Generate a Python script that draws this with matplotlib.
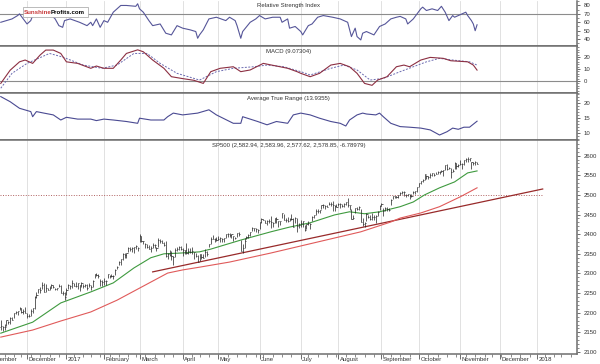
import numpy as np
import pandas as pd
import matplotlib
matplotlib.use('Agg')
import matplotlib.pyplot as plt
from matplotlib.ticker import MultipleLocator, FixedLocator, NullLocator
from matplotlib.transforms import blended_transform_factory, offset_copy
from matplotlib.patches import Rectangle

plt.rcParams['font.family'] = ['Liberation Sans', 'DejaVu Sans']
plt.rcParams['font.size'] = 4.3

# ---------------- data ----------------
nyse_holidays = ['2016-11-24', '2016-12-26', '2017-01-02', '2017-01-16', '2017-02-20',
                 '2017-04-14', '2017-05-29', '2017-07-04', '2017-09-04', '2017-11-23',
                 '2017-12-25', '2018-01-01', '2018-01-15']
first_bar_date = '2016-11-09'

# daily S&P 500 bars, 2016-11-09 .. 2017-11-14
closes = [
    # Nov 2016
    2163.26, 2167.48, 2164.45, 2164.20, 2180.39, 2176.94, 2187.12, 2181.90, 2198.18, 2202.94,
    2204.72, 2213.35, 2201.72, 2204.66, 2198.81,
    # Dec
    2191.08, 2191.95, 2204.71, 2212.23, 2241.35, 2246.19, 2259.53, 2256.96, 2271.72, 2253.28,
    2262.03, 2258.07, 2262.53, 2270.76, 2265.18, 2260.96, 2263.79, 2268.88, 2249.92, 2249.26, 2238.83,
    # Jan 2017
    2257.83, 2270.75, 2269.00, 2276.98, 2268.90, 2268.90, 2275.32, 2270.44, 2274.64, 2267.89,
    2271.89, 2263.69, 2271.31, 2265.20, 2280.07, 2298.37, 2296.68, 2294.69, 2280.90, 2278.87,
    # Feb
    2279.55, 2280.85, 2297.42, 2292.56, 2293.08, 2294.67, 2307.87, 2316.10, 2328.25, 2337.58,
    2349.25, 2347.22, 2351.16, 2365.38, 2362.82, 2363.81, 2367.34, 2369.75, 2363.64,
    # Mar
    2395.96, 2381.92, 2383.12, 2375.31, 2368.39, 2362.98, 2364.87, 2372.60, 2373.47, 2365.45,
    2385.26, 2381.38, 2378.25, 2373.47, 2344.02, 2348.45, 2345.96, 2343.98, 2341.59, 2358.57,
    2361.13, 2368.06, 2362.72,
    # Apr
    2358.84, 2360.16, 2352.95, 2357.49, 2355.54, 2357.16, 2353.78, 2344.93, 2328.95, 2349.01,
    2342.19, 2338.17, 2355.84, 2348.69, 2374.15, 2388.61, 2387.45, 2388.77, 2384.20,
    # May
    2388.33, 2391.17, 2388.13, 2389.52, 2399.29, 2399.38, 2396.92, 2399.63, 2394.44, 2390.90,
    2402.32, 2400.67, 2357.03, 2365.72, 2381.73, 2394.02, 2398.42, 2404.39, 2415.07, 2415.82,
    2412.91, 2411.80,
    # Jun
    2430.06, 2439.07, 2436.10, 2429.33, 2433.14, 2433.79, 2431.77, 2429.39, 2440.35, 2437.92,
    2432.46, 2433.15, 2453.46, 2437.03, 2435.61, 2434.50, 2438.30, 2439.07, 2419.38, 2440.69,
    2419.70, 2423.41,
    # Jul
    2429.01, 2432.54, 2409.75, 2425.18, 2427.43, 2425.53, 2443.25, 2447.83, 2459.27, 2459.14,
    2460.61, 2473.83, 2473.45, 2472.54, 2469.91, 2477.13, 2477.83, 2475.42, 2472.10, 2470.30,
    # Aug
    2476.35, 2477.57, 2472.16, 2476.83, 2480.91, 2474.92, 2474.02, 2438.21, 2441.32, 2465.84,
    2464.61, 2468.11, 2430.01, 2425.55, 2428.37, 2452.51, 2444.04, 2438.97, 2443.05, 2444.24,
    2446.30, 2457.59, 2471.65,
    # Sep
    2476.55, 2457.85, 2465.54, 2465.10, 2461.43, 2488.11, 2496.48, 2498.37, 2495.62, 2500.23,
    2503.87, 2506.65, 2508.24, 2500.60, 2502.22, 2496.66, 2496.84, 2507.04, 2510.06, 2519.36,
    # Oct
    2529.12, 2534.58, 2537.74, 2552.07, 2549.33, 2544.73, 2550.64, 2555.24, 2550.93, 2553.17,
    2557.64, 2559.36, 2561.26, 2562.10, 2575.21, 2564.98, 2569.13, 2557.15, 2560.40, 2581.07,
    2572.83, 2575.26,
    # Nov
    2579.36, 2579.85, 2587.84, 2591.13, 2590.64, 2594.38, 2584.62, 2582.30, 2584.84, 2578.85,
]
highs = [
    2170.1, 2182.3, 2165.9, 2171.4, 2180.8, 2179.2, 2188.1, 2189.9, 2198.7, 2204.8,
    2204.7, 2213.4, 2211.1, 2210.5, 2214.1,
    2198.8, 2197.9, 2209.4, 2212.5, 2241.6, 2251.7, 2259.8, 2265.3, 2277.5, 2276.2,
    2272.1, 2263.9, 2269.0, 2272.6, 2271.2, 2263.2, 2263.8, 2273.8, 2271.3, 2254.5, 2253.6,
    2263.9, 2272.8, 2271.5, 2282.1, 2275.5, 2279.3, 2275.5, 2271.8, 2278.7, 2272.1,
    2272.1, 2274.0, 2276.1, 2271.8, 2284.6, 2299.0, 2300.9, 2299.0, 2286.0, 2282.3,
    2289.1, 2283.0, 2298.3, 2296.2, 2299.4, 2295.9, 2311.1, 2319.2, 2331.6, 2337.6,
    2351.3, 2351.3, 2351.3, 2366.7, 2368.3, 2368.3, 2367.4, 2371.5, 2367.8,
    2401.0, 2394.8, 2383.9, 2378.8, 2375.1, 2373.1, 2369.1, 2376.9, 2374.4, 2368.6,
    2390.0, 2389.0, 2385.7, 2379.0, 2381.9, 2351.8, 2358.9, 2356.2, 2344.9, 2363.8,
    2366.8, 2370.4, 2370.4,
    2365.4, 2360.5, 2378.4, 2364.2, 2364.5, 2366.4, 2355.2, 2352.7, 2348.2, 2349.1,
    2348.4, 2348.3, 2361.4, 2356.2, 2376.0, 2392.0, 2398.2, 2391.4, 2392.1,
    2394.5, 2392.9, 2389.8, 2391.4, 2399.3, 2403.9, 2403.9, 2399.7, 2395.5, 2392.4,
    2404.1, 2405.8, 2384.9, 2375.7, 2389.3, 2395.5, 2400.8, 2405.6, 2418.7, 2416.0,
    2415.0, 2412.9,
    2430.1, 2440.2, 2439.2, 2436.2, 2435.3, 2439.8, 2446.2, 2432.0, 2441.0, 2443.8,
    2433.9, 2433.2, 2453.8, 2450.4, 2442.2, 2442.7, 2441.0, 2450.4, 2442.0, 2443.2,
    2442.4, 2428.0,
    2436.5, 2434.8, 2424.3, 2426.9, 2432.3, 2429.3, 2445.9, 2449.3, 2463.5, 2462.9,
    2462.6, 2474.0, 2477.6, 2473.1, 2473.1, 2481.6, 2481.2, 2484.0, 2474.0, 2477.0,
    2478.5, 2480.4, 2476.8, 2480.4, 2481.0, 2490.9, 2474.9, 2465.0, 2448.1, 2466.6,
    2468.2, 2471.0, 2465.0, 2440.3, 2430.6, 2453.9, 2448.9, 2448.9, 2453.0, 2448.9,
    2449.1, 2458.9, 2475.0,
    2480.2, 2467.1, 2469.6, 2468.6, 2467.1, 2488.9, 2496.8, 2498.4, 2498.4, 2500.3,
    2508.3, 2508.9, 2508.9, 2502.5, 2503.5, 2502.5, 2503.5, 2508.9, 2510.8, 2519.4,
    2529.2, 2535.1, 2540.5, 2552.5, 2549.4, 2548.0, 2555.2, 2555.2, 2555.0, 2557.7,
    2559.7, 2559.7, 2564.1, 2562.4, 2575.4, 2578.3, 2572.2, 2567.4, 2566.0, 2582.9,
    2580.0, 2578.0,
    2588.4, 2581.1, 2588.4, 2593.0, 2597.0, 2594.4, 2585.0, 2583.0, 2587.0, 2583.96,
]
lows = [
    2125.0, 2156.1, 2152.5, 2156.1, 2166.4, 2172.2, 2172.0, 2180.4, 2186.4, 2197.0,
    2194.5, 2206.3, 2200.0, 2198.0, 2198.8,
    2187.4, 2188.4, 2192.0, 2200.4, 2210.2, 2237.1, 2249.8, 2250.5, 2260.8, 2253.3,
    2253.8, 2257.1, 2257.0, 2264.0, 2262.2, 2258.8, 2258.8, 2266.2, 2249.8, 2244.6, 2233.6,
    2245.1, 2261.6, 2260.8, 2264.1, 2268.0, 2265.3, 2260.8, 2254.3, 2266.1, 2262.8,
    2264.6, 2258.8, 2264.6, 2257.0, 2266.1, 2288.9, 2294.1, 2288.7, 2268.1, 2267.2,
    2271.3, 2271.7, 2287.9, 2289.1, 2290.2, 2285.4, 2297.3, 2311.1, 2321.4, 2321.4,
    2334.6, 2338.9, 2339.6, 2355.1, 2358.3, 2355.1, 2352.9, 2361.9, 2358.3,
    2380.2, 2381.0, 2374.4, 2365.0, 2364.2, 2362.1, 2354.5, 2364.7, 2365.1, 2358.0,
    2368.5, 2377.2, 2377.5, 2369.7, 2343.0, 2336.9, 2343.4, 2333.3, 2322.3, 2340.9,
    2356.0, 2358.9, 2358.8,
    2344.7, 2350.7, 2350.1, 2348.7, 2351.1, 2350.3, 2337.3, 2341.2, 2328.9, 2332.5,
    2337.7, 2338.2, 2340.7, 2344.0, 2366.3, 2375.5, 2386.8, 2380.3, 2382.4,
    2384.8, 2380.8, 2379.8, 2380.7, 2389.2, 2393.6, 2392.4, 2390.7, 2381.7, 2387.2,
    2392.4, 2396.1, 2356.2, 2352.7, 2365.0, 2386.9, 2390.8, 2396.0, 2408.0, 2408.6,
    2405.0, 2403.6,
    2413.5, 2427.3, 2435.0, 2428.0, 2424.1, 2428.1, 2415.3, 2418.5, 2429.3, 2428.7,
    2418.5, 2422.9, 2441.8, 2436.7, 2430.7, 2430.7, 2433.2, 2437.0, 2419.3, 2428.0,
    2405.7, 2415.0,
    2419.3, 2418.1, 2407.7, 2413.8, 2422.3, 2413.2, 2433.2, 2441.4, 2448.8, 2454.8,
    2455.0, 2463.9, 2467.6, 2465.1, 2468.0, 2474.7, 2470.5, 2459.3, 2459.4, 2468.9,
    2471.1, 2466.5, 2468.9, 2468.4, 2474.4, 2470.3, 2462.1, 2437.8, 2437.8, 2454.8,
    2460.6, 2462.4, 2430.0, 2420.7, 2417.3, 2434.3, 2441.4, 2436.0, 2436.4, 2436.9,
    2428.2, 2446.8, 2461.0,
    2471.5, 2447.0, 2459.4, 2457.9, 2459.9, 2474.5, 2490.4, 2492.0, 2491.9, 2491.4,
    2499.0, 2503.2, 2496.3, 2495.1, 2496.5, 2488.6, 2495.3, 2503.5, 2503.0, 2508.4,
    2520.4, 2528.9, 2533.7, 2538.6, 2541.6, 2541.0, 2542.7, 2547.9, 2547.0, 2552.6,
    2552.6, 2554.0, 2559.1, 2547.9, 2563.0, 2564.3, 2565.7, 2544.0, 2559.0, 2565.0,
    2566.0, 2572.0,
    2576.0, 2566.2, 2576.0, 2585.0, 2584.0, 2586.0, 2566.0, 2576.0, 2576.0, 2577.62,
]

# overlays (x = trading day counted from first bar)
ma_green_x = [1, 18, 33, 49, 61, 72, 81, 88, 97, 107, 113, 129, 145, 155, 166, 179, 187,
              195, 203, 214, 221, 227, 235, 243, 250, 255]
ma_green = [2148, 2176, 2225, 2253, 2276, 2314, 2340, 2350, 2352, 2355, 2362, 2385, 2406,
            2418, 2429, 2449, 2457, 2452, 2457, 2470, 2482, 2500, 2518, 2533, 2556, 2561]
ma_red_x = [1, 18, 33, 49, 63, 72, 81, 90, 98, 107, 123, 145, 161, 177, 193, 209, 214,
            225, 235, 246, 255]
ma_red = [2138, 2156, 2179, 2202, 2232, 2255, 2278, 2301, 2309, 2316, 2329, 2352, 2370,
          2388, 2406, 2431, 2441, 2454, 2470, 2495, 2518]
trend_x = [82, 290]
trend_y = [2304, 2515]
support_level = 2500
support_end = 290

rsi_x = [1, 4, 7, 10, 11, 13, 15, 17, 18, 22, 27, 30, 32, 34, 35, 38, 43, 47, 49, 50,
         52, 54, 56, 58, 61, 65, 68, 73, 74, 75, 77, 80, 82, 86, 89, 92, 95, 98, 102, 105,
         106, 107, 109, 112, 116, 121, 123, 126, 127, 129, 130, 134, 137, 139, 142, 146, 150, 151, 154, 155,
         158, 161, 162, 165, 167, 170, 173, 178, 182, 186, 188, 190, 191, 193, 194, 196, 200, 203, 206, 209,
         212, 214, 217, 218, 221, 225, 226, 228, 231, 234, 236, 238, 240, 242, 243, 249, 250, 252, 253, 254, 255]
rsi = [60, 62, 64, 68, 70, 64, 58, 62, 68, 70, 71, 64, 56, 54, 62, 64, 60, 56, 60, 56,
       64, 54, 62, 60, 72, 80, 80, 79, 82, 76, 72, 62, 56, 58, 47, 45, 56, 53, 51, 49,
       41, 45, 51, 64, 66, 62, 66, 62, 56, 41, 49, 60, 64, 68, 64, 66, 66, 60, 64, 53,
       55, 49, 45, 56, 58, 66, 68, 66, 64, 60, 43, 53, 43, 39, 47, 49, 45, 55, 58, 64,
       66, 67, 64, 58, 64, 76, 78, 74, 76, 74, 79, 72, 62, 68, 66, 72, 68, 62, 58, 50, 57]

macd_x = [1, 6, 11, 14, 18, 22, 25, 29, 33, 36, 42, 49, 52, 56, 61, 65, 68, 74, 77, 82,
          88, 92, 98, 104, 109, 113, 118, 125, 129, 134, 141, 148, 154, 159, 161, 166, 171, 177, 182, 187,
          191, 195, 199, 202, 207, 212, 216, 219, 225, 230, 237, 241, 250, 253, 255]
macd = [-2, 9, 16, 17.5, 14.7, 21.7, 25.8, 25.8, 23, 16, 14.7, 10.6, 12.5, 10.6, 10.6, 17.5, 23, 26, 24.4, 17.5,
        10.6, 3.6, 2, 0.6, -2, 7.8, 10.6, 11.9, 7.8, 9.2, 14.7, 12.5, 10.6, 7.8, 6.4, 3.6, 6.4, 13.3, 14.7, 11.9,
        6.4, -2, -3.6, 0.8, 3.6, 11.9, 13.3, 11.9, 17.5, 19.7, 18.9, 16.9, 16, 13.3, 9.1]
signal_x = [1, 7, 15, 27, 34, 45, 55, 63, 72, 79, 86, 95, 107, 116, 125, 136, 143, 152, 161, 166,
            177, 184, 191, 198, 205, 214, 221, 228, 235, 242, 251, 255]
signal = [-6, 6.4, 14.7, 23, 20, 13.3, 10.6, 13.3, 23, 23, 14.7, 6.4, 0.8, 7.8, 10.6, 11.9, 13.3, 11.9, 7.8, 5,
          10.6, 13.3, 9.2, 0.8, 2.2, 7.8, 11.9, 16, 18.9, 17.5, 16, 13.3]

atr_x = [1, 6, 11, 17, 18, 20, 24, 29, 33, 36, 42, 49, 52, 56, 61, 68, 74, 75, 81, 88,
         90, 93, 98, 106, 112, 116, 125, 129, 130, 138, 143, 148, 154, 157, 161, 166, 171, 177, 182, 185,
         187, 191, 194, 196, 201, 203, 205, 209, 214, 219, 225, 230, 235, 239, 242, 245, 248, 251, 255]
atr = [22.1, 20.4, 18.2, 17.1, 15.4, 17.1, 16.6, 16, 14.3, 15.2, 14.6, 14.6, 14.1, 14.6, 14.3, 13.8, 13.2, 14.9, 14.3, 14.3,
       15.4, 16.6, 16, 16.6, 17.7, 16, 13.2, 13.2, 15.4, 13.8, 12.7, 13.8, 13.2, 16, 16.6, 16, 14.9, 13.8, 13.2, 12.3,
       14.3, 16, 16.6, 16.3, 16, 16.6, 15.4, 13.2, 12.1, 11.9, 11.6, 11, 9.3, 10.4, 11.6, 11.2, 11.9, 11.9, 13.9]

month_names = ['November', 'December', '2017', 'February', 'March', 'April', 'May', 'June',
               'July', 'August', 'September', 'October', 'November', 'December', '2018']

sp_title = 'SP500 (2,582.94, 2,583.96, 2,577.62, 2,578.85, -6.78979)'
macd_title = 'MACD (9.07304)'
atr_title = 'Average True Range (13.9355)'
rsi_title = 'Relative Strength Index'

# ---------------- trading calendar ----------------
days = pd.bdate_range('2016-11-01', '2018-01-31', freq='C', holidays=nyse_holidays)
offset = int(np.where(days == pd.Timestamp(first_bar_date))[0][0])
day_pos = np.arange(len(days)) - offset
cal = pd.DataFrame({'pos': day_pos, 'date': days})
month_pos = cal.groupby([cal.date.dt.year, cal.date.dt.month]).pos.first().values
week_pos = cal.groupby(cal.date.dt.to_period('W')).pos.first().values

n = min(len(closes), len(highs), len(lows))
bar_x = np.arange(n)
closes = np.array(closes[:n])
highs = np.array(highs[:n])
lows = np.array(lows[:n])

# ---------------- layout ----------------
W, H = 600, 364
fig = plt.figure(figsize=(W / 100, H / 100), dpi=100)
fig.patch.set_facecolor('white')


def panel(top, bottom):
    return fig.add_axes([0, 1 - bottom / H, 577 / W, (bottom - top) / H])


ax_rsi = panel(0.5, 46)
ax_macd = panel(46, 93)
ax_atr = panel(93, 139.5)
ax = panel(139.5, 354)

xlim = (0.59, 308.3)
grid_c = '#dcdcdc'
spine_c = '#6e6e6e'
txt_c = '#333333'

for a in (ax_rsi, ax_macd, ax_atr, ax):
    a.set_xlim(*xlim)
    for m in month_pos:
        if xlim[0] < m < xlim[1]:
            a.axvline(m, color=grid_c, lw=0.6, zorder=0)
    for s in a.spines.values():
        s.set_color(spine_c)
        s.set_linewidth(1.1)
    a.spines['left'].set_visible(False)
    a.yaxis.tick_right()
    a.tick_params(axis='y', which='major', length=2.5, width=0.5, pad=2.5,
                  labelsize=4.3, colors=txt_c)
    a.tick_params(axis='y', which='minor', length=1.3, width=0.4, colors=txt_c)
    if a is not ax:
        a.xaxis.set_major_locator(NullLocator())
ax_rsi.spines['top'].set_visible(False)


def panel_title(a, text):
    a.text(0.5, 1, text, transform=offset_copy(a.transAxes, fig=fig, y=-5.5, units='dots'),
           ha='center', va='center', fontsize=4.3, color=txt_c)


# RSI
ax_rsi.set_ylim(31.8, 85.9)
ax_rsi.axhline(70, color='#8c8c8c', lw=0.8, zorder=1)
ax_rsi.plot(rsi_x, rsi, color='#565699', lw=0.8, zorder=3)
ax_rsi.yaxis.set_major_locator(FixedLocator([40, 50, 60, 70, 80]))
ax_rsi.yaxis.set_minor_locator(MultipleLocator(5))
panel_title(ax_rsi, rsi_title)

# MACD
ax_macd.set_ylim(-10, 29.2)
ax_macd.axhline(0, color='#8c8c8c', lw=0.8, zorder=1)
ax_macd.plot(signal_x, signal, color='#6a6ab0', lw=0.7, ls=(0, (2, 1.5)), zorder=3)
ax_macd.plot(macd_x, macd, color='#8c2f42', lw=0.8, zorder=4)
ax_macd.yaxis.set_major_locator(FixedLocator([0, 10, 20]))
ax_macd.yaxis.set_minor_locator(MultipleLocator(2))
panel_title(ax_macd, macd_title)

# ATR
ax_atr.set_ylim(7.8, 23.3)
ax_atr.plot(atr_x, atr, color='#4a4a92', lw=0.8, zorder=3)
ax_atr.yaxis.set_major_locator(FixedLocator([10, 15, 20]))
ax_atr.yaxis.set_minor_locator(MultipleLocator(1))
panel_title(ax_atr, atr_title)

# price panel
ax.set_ylim(2095, 2641)
ax.hlines(support_level, xlim[0], support_end, colors='#b06060', lw=0.7,
          linestyles=(0, (1, 1.6)), zorder=2)
ax.plot(trend_x, trend_y, color='#982a2a', lw=0.9, zorder=3)
ax.plot(ma_red_x, ma_red, color='#e05a5a', lw=0.8, zorder=3)
ax.plot(ma_green_x, ma_green, color='#3f9a3f', lw=0.8, zorder=3)
ax.vlines(bar_x, lows, highs, color='#202020', lw=0.5, zorder=4)
ax.hlines(closes, bar_x, bar_x + 0.6, color='#202020', lw=0.5, zorder=4)
ax.yaxis.set_major_locator(MultipleLocator(50))
ax.yaxis.set_minor_locator(MultipleLocator(10))
ax.set_yticks(np.arange(2100, 2601, 50))
panel_title(ax, sp_title)

ax.set_xticks([m for m in month_pos if xlim[0] < m < xlim[1]])
ax.set_xticks([w for w in week_pos if xlim[0] < w < xlim[1]], minor=True)
ax.set_xticklabels([])
ax.tick_params(axis='x', which='major', length=3.5, width=0.5, colors=txt_c)
ax.tick_params(axis='x', which='minor', length=1.8, width=0.4, colors=txt_c)

lab_tr = offset_copy(blended_transform_factory(ax.transData, ax.transAxes),
                     fig=fig, x=1.5, y=-3, units='dots')
for m, name in zip(month_pos, month_names):
    ax.text(m, 0, name, transform=lab_tr, ha='left', va='top', fontsize=4.3,
            color=txt_c, clip_on=False)

# logo
fig.patches.append(Rectangle((23 / W, 1 - 17 / H), 65 / W, 10 / H, transform=fig.transFigure,
                             facecolor='white', edgecolor='#a0a0a0', lw=0.5, zorder=5))
fig.text(24 / W, 1 - 12 / H, 'Sunshine', color='#c83a3a', weight='bold', fontsize=4.4,
         va='center', ha='left', zorder=6)
fig.text(51 / W, 1 - 12 / H, 'Profits.com', color='black', weight='bold', fontsize=4.4,
         va='center', ha='left', zorder=6)

fig.savefig('out.png', dpi=100, facecolor='white')
